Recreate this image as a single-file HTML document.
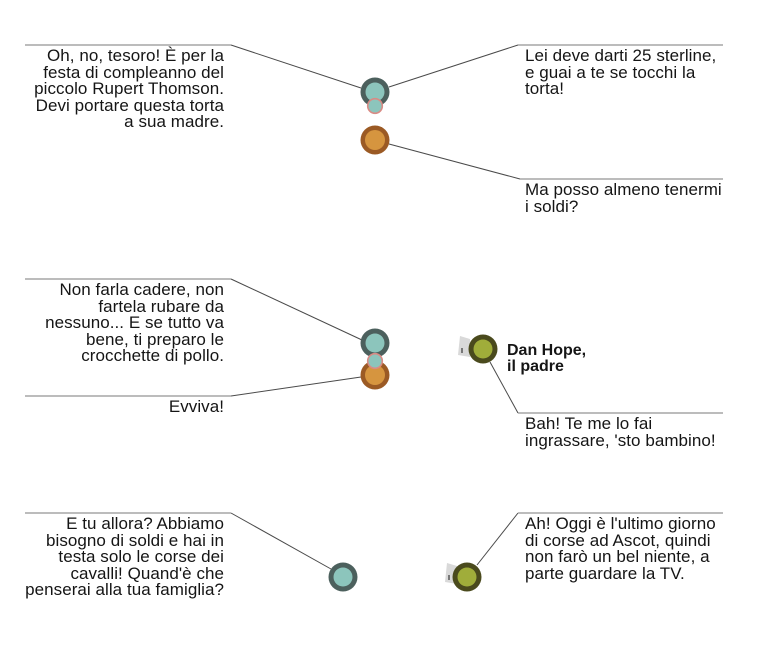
<!DOCTYPE html>
<html><head><meta charset="utf-8">
<style>
html,body{margin:0;padding:0;background:#fff;}
body{width:759px;height:645px;position:relative;overflow:hidden;font-family:"Liberation Sans",sans-serif;color:#151515;}
.t{position:absolute;font-size:17px;line-height:16.5px;letter-spacing:0.05px;white-space:nowrap;}
.r{text-align:right;}
.l{text-align:left;}
svg{position:absolute;left:0;top:0;}
</style></head><body>
<svg width="759" height="645" viewBox="0 0 759 645">
<g fill="none" stroke-width="1">
<polyline points="25,45 231,45" stroke="#7a7a7a"/>
<polyline points="231,45 361,88" stroke="#4a4a4a"/>
<polyline points="389,87 518,45" stroke="#4a4a4a"/>
<polyline points="518,45 723,45" stroke="#7a7a7a"/>
<polyline points="389,144 520,179" stroke="#4a4a4a"/>
<polyline points="520,179 723,179" stroke="#7a7a7a"/>
<polyline points="25,279 231,279" stroke="#7a7a7a"/>
<polyline points="231,279 362,340" stroke="#4a4a4a"/>
<polyline points="25,396 231,396" stroke="#7a7a7a"/>
<polyline points="231,396 361,377" stroke="#4a4a4a"/>
<polyline points="490,362 518,413" stroke="#4a4a4a"/>
<polyline points="518,413 723,413" stroke="#7a7a7a"/>
<polyline points="25,513 231,513" stroke="#7a7a7a"/>
<polyline points="231,513 331,569" stroke="#4a4a4a"/>
<polyline points="477,565 518,513" stroke="#4a4a4a"/>
<polyline points="518,513 723,513" stroke="#7a7a7a"/>
</g>
<!-- top group -->
<circle cx="375" cy="92" r="14.5" fill="#4c605d"/>
<circle cx="375" cy="92" r="9.5" fill="#8cc5bc"/>
<circle cx="375" cy="106" r="7.3" fill="#8cc5bc" stroke="#d98b85" stroke-width="1.6"/>
<circle cx="375" cy="140" r="14.5" fill="#9b5a24"/>
<circle cx="375" cy="140" r="10" fill="#d6953f"/>
<!-- middle group -->
<circle cx="375" cy="343" r="14.5" fill="#4c605d"/>
<circle cx="375" cy="343" r="9.5" fill="#8cc5bc"/>
<circle cx="375" cy="375" r="14.5" fill="#9b5a24"/>
<circle cx="375" cy="375" r="10" fill="#d6953f"/>
<circle cx="375" cy="361" r="7.3" fill="#8cc5bc" stroke="#d98b85" stroke-width="1.6"/>
<!-- Dan Hope -->
<polygon points="460,336 470,339 470,357 458,355" fill="#d9d9d9"/>
<rect x="461" y="348" width="2" height="5" fill="#777"/>
<circle cx="483" cy="349" r="14.5" fill="#4a4a1d"/>
<circle cx="483" cy="349" r="9.5" fill="#a0ad3a"/>
<!-- bottom -->
<circle cx="343" cy="577" r="14.5" fill="#4c605d"/>
<circle cx="343" cy="577" r="9.5" fill="#8cc5bc"/>
<polygon points="447,563 457,566 457,584 445,582" fill="#d9d9d9"/>
<rect x="448" y="575" width="2" height="5" fill="#777"/>
<circle cx="467" cy="577" r="14.5" fill="#4a4a1d"/>
<circle cx="467" cy="577" r="9.5" fill="#a0ad3a"/>
</svg>

<div class="t r" style="right:535px;top:48px;">Oh, no, tesoro! È per la<br>festa di compleanno del<br>piccolo Rupert Thomson.<br>Devi portare questa torta<br>a sua madre.</div>
<div class="t l" style="left:525px;top:48px;">Lei deve darti 25 sterline,<br>e guai a te se tocchi la<br>torta!</div>
<div class="t l" style="left:525px;top:182px;">Ma posso almeno tenermi<br>i soldi?</div>
<div class="t r" style="right:535px;top:282px;">Non farla cadere, non<br>fartela rubare da<br>nessuno... E se tutto va<br>bene, ti preparo le<br>crocchette di pollo.</div>
<div class="t r" style="right:535px;top:399px;">Evviva!</div>
<div class="t l" style="left:507px;top:342.5px;font-size:16px;line-height:16.5px;font-weight:bold;letter-spacing:0;">Dan Hope,<br>il padre</div>
<div class="t l" style="left:525px;top:416px;">Bah! Te me lo fai<br>ingrassare, 'sto bambino!</div>
<div class="t r" style="right:535px;top:516px;">E tu allora? Abbiamo<br>bisogno di soldi e hai in<br>testa solo le corse dei<br>cavalli! Quand'è che<br>penserai alla tua famiglia?</div>
<div class="t l" style="left:525px;top:516px;">Ah! Oggi è l'ultimo giorno<br>di corse ad Ascot, quindi<br>non farò un bel niente, a<br>parte guardare la TV.</div>
</body></html>
